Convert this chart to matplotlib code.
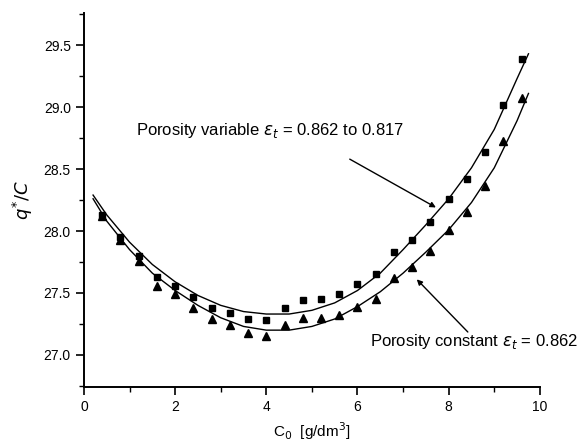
import numpy as np
import matplotlib.pyplot as plt
from matplotlib.ticker import MultipleLocator

plt.rcParams['font.family'] = ['Liberation Sans', 'DejaVu Sans']

# measured points, C0 in g/dm3
c0 = [0.4, 0.8, 1.2, 1.6, 2.0, 2.4, 2.8, 3.2, 3.6, 4.0, 4.4, 4.8,
      5.2, 5.6, 6.0, 6.4, 6.8, 7.2, 7.6, 8.0, 8.4, 8.8, 9.2, 9.6]
q_variable = [28.13, 27.95, 27.80, 27.63, 27.56, 27.47, 27.38, 27.34,
              27.29, 27.28, 27.38, 27.44, 27.45, 27.49, 27.57, 27.65,
              27.83, 27.93, 28.07, 28.26, 28.42, 28.64, 29.02, 29.39]
q_constant = [28.12, 27.93, 27.76, 27.56, 27.49, 27.38, 27.29, 27.24,
              27.18, 27.15, 27.24, 27.30, 27.30, 27.32, 27.39, 27.45,
              27.62, 27.71, 27.84, 28.01, 28.15, 28.36, 28.73, 29.07]

# model curves
c0_fit = [0.2, 0.5, 1.0, 1.5, 2.0, 2.5, 3.0, 3.5, 4.0, 4.5, 5.0, 5.5,
          6.0, 6.5, 7.0, 7.5, 8.0, 8.5, 9.0, 9.5, 9.75]
fit_variable = [28.29, 28.13, 27.91, 27.73, 27.59, 27.48, 27.40, 27.35,
                27.33, 27.33, 27.36, 27.42, 27.52, 27.66, 27.85, 28.05,
                28.26, 28.51, 28.82, 29.23, 29.43]
fit_constant = [28.26, 28.08, 27.85, 27.66, 27.52, 27.40, 27.30, 27.23,
                27.20, 27.20, 27.23, 27.29, 27.39, 27.51, 27.66, 27.83,
                28.01, 28.23, 28.51, 28.89, 29.11]

fig = plt.figure(figsize=(5.83, 4.45), dpi=100)
ax = fig.add_axes([0.144, 0.130, 0.782, 0.841])

ax.plot(c0_fit, fit_variable, color='black', lw=1.0)
ax.plot(c0_fit, fit_constant, color='black', lw=1.0)
ax.plot(c0, q_variable, 's', color='black', ms=5)
ax.plot(c0, q_constant, '^', color='black', ms=6)

ax.set_xlim(0, 10)
ax.set_ylim(26.74, 29.76)
ax.xaxis.set_major_locator(MultipleLocator(2))
ax.xaxis.set_minor_locator(MultipleLocator(1))
ax.yaxis.set_major_locator(MultipleLocator(0.5))
ax.yaxis.set_minor_locator(MultipleLocator(0.25))
ax.tick_params(which='major', direction='out', length=6, width=1.2, labelsize=10)
ax.tick_params(which='minor', direction='out', length=3.5, width=1.0)
for s in ['top', 'right']:
    ax.spines[s].set_visible(False)
for s in ['left', 'bottom']:
    ax.spines[s].set_linewidth(1.4)

ax.set_xlabel(r'C$_0$  [g/dm$^3$]', fontsize=11, labelpad=4)
ax.set_ylabel(r'$q^{*}/C$', fontsize=13, labelpad=6)

ax.text(1.14, 28.81, r'Porosity variable $\varepsilon_t$ = 0.862 to 0.817',
        fontsize=12, ha='left', va='center')
ax.annotate('', xy=(7.72, 28.19), xytext=(5.83, 28.58),
            arrowprops=dict(arrowstyle='-|>', color='black', lw=1.0,
                            mutation_scale=8, shrinkA=0, shrinkB=0))
ax.annotate('', xy=(7.30, 27.61), xytext=(8.42, 27.185),
            arrowprops=dict(arrowstyle='-|>', color='black', lw=1.0,
                            mutation_scale=8, shrinkA=0, shrinkB=0))
ax.text(6.27, 27.105, r'Porosity constant $\varepsilon_t$ = 0.862',
        fontsize=12, ha='left', va='center', clip_on=False)

fig.savefig('out.png', dpi=100)
